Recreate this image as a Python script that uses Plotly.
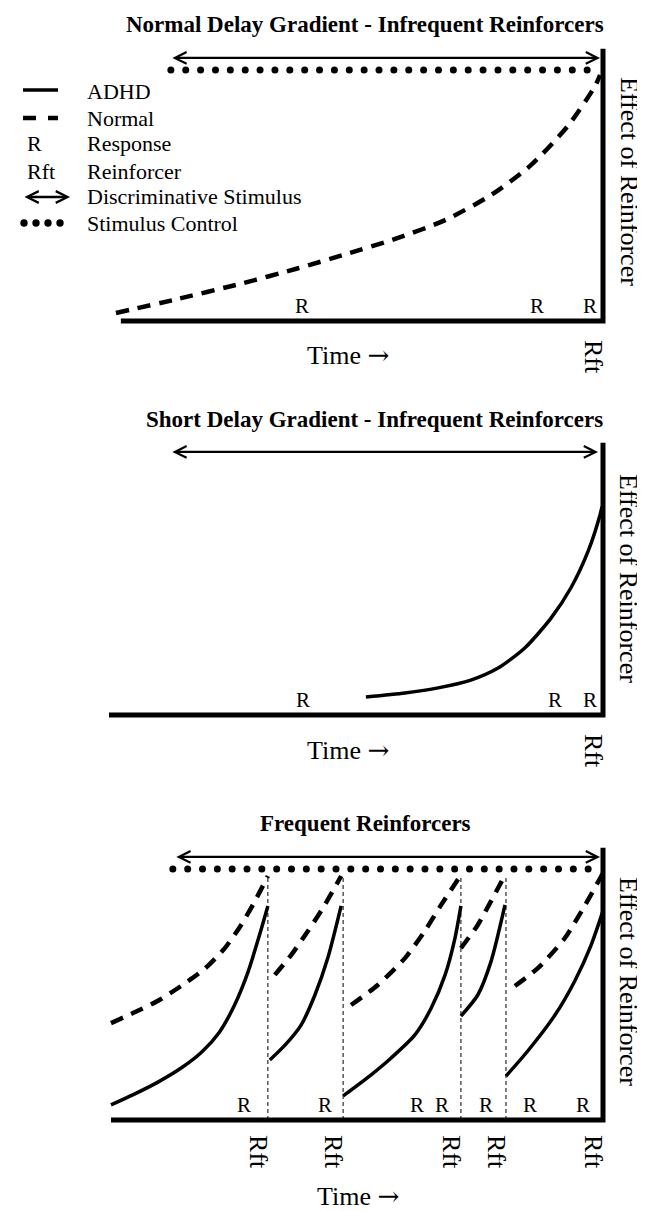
import numpy as np
import plotly.graph_objects as go

# ---------------------------------------------------------------- data
# Time axis: 0 = start of the time line, 100 = the reinforcer at the right axis.
# Effect axis: 0 = baseline, 1 = level of stimulus control.

# Panel 1 - Normal delay gradient, infrequent reinforcers
p1_normal_t = [1.6, 13.5, 26.9, 38.4, 47.5, 58.6, 68.1, 77.4, 85.5, 92.9, 98.4, 99.4]
p1_normal_e = [0.032, 0.085, 0.149, 0.210, 0.263, 0.331, 0.402, 0.502, 0.622, 0.777, 0.936, 0.980]
p1_responses = [39.2, 86.7, 97.4]
p1_reinforcers = [100]
p1_sd_span = [12.7, 99.4]          # discriminative stimulus
p1_control_span = [12.7, 96.8]     # stimulus control

# Panel 2 - Short delay gradient, infrequent reinforcers
p2_adhd_t = [52.1, 60.0, 66.7, 73.3, 78.8, 84.2, 89.5, 93.5, 97.0, 99.4, 99.8]
p2_adhd_e = [0.072, 0.088, 0.108, 0.139, 0.187, 0.267, 0.386, 0.506, 0.653, 0.797, 0.83]
p2_responses = [39.4, 90.3, 97.4]
p2_reinforcers = [100]
p2_sd_span = [12.7, 99.0]

# Panel 3 - Frequent reinforcers
p3_reinforcers = [32.3, 47.5, 71.3, 80.4, 100]
p3_responses = [27.5, 43.8, 62.4, 67.5, 76.4, 85.3, 96.0]
p3_sd_span = [13.5, 99.4]
p3_control_span = [13.1, 97.0]

p3_adhd_t = [
    [0.6, 5.0, 10.0, 15.0, 19.0, 22.5, 25.5, 28.3, 30.5, 32.3],
    [32.7, 35.8, 39.0, 41.8, 44.4, 47.1],
    [47.5, 53.1, 57.2, 62.0, 65.3, 68.1, 70.1, 71.3],
    [71.3, 74.7, 77.4, 80.2],
    [80.4, 84.8, 90.3, 94.3, 97.6, 100.0],
]
p3_adhd_e = [
    [0.060, 0.100, 0.150, 0.210, 0.272, 0.350, 0.455, 0.590, 0.730, 0.853],
    [0.239, 0.299, 0.378, 0.498, 0.645, 0.853],
    [0.096, 0.179, 0.247, 0.339, 0.446, 0.578, 0.725, 0.853],
    [0.414, 0.498, 0.633, 0.857],
    [0.175, 0.275, 0.418, 0.554, 0.697, 0.833],
]
p3_normal_t = [
    [0.6, 5.5, 10.1, 14.7, 19.6, 23.6, 26.9, 29.7, 32.3],
    [33.7, 37.0, 40.4, 43.8, 47.1],
    [49.1, 54.5, 60.0, 64.0, 67.3, 71.3],
    [71.3, 74.7, 77.4, 80.2],
    [82.2, 86.9, 92.3, 96.4, 100.0],
]
p3_normal_e = [
    [0.386, 0.430, 0.475, 0.533, 0.604, 0.685, 0.777, 0.873, 0.972],
    [0.578, 0.657, 0.753, 0.857, 0.972],
    [0.458, 0.538, 0.645, 0.753, 0.857, 0.976],
    [0.685, 0.777, 0.873, 0.976],
    [0.534, 0.606, 0.725, 0.857, 0.984],
]

titles = ["Normal Delay Gradient - Infrequent Reinforcers",
          "Short Delay Gradient - Infrequent Reinforcers",
          "Frequent Reinforcers"]
legend_labels = ["ADHD", "Normal", "Response", "Reinforcer",
                 "Discriminative Stimulus", "Stimulus Control"]

# ---------------------------------------------------------------- layout helpers
W, H = 645, 1211
SERIF = "Liberation Serif"
T0_PX, T100_PX = 100, 595
PX_PER_T = (T100_PX - T0_PX) / 100.0
PX_PER_E = 251.0

PANELS = [
    dict(top=0, bottom=385, base=313, t_start=2.6, title_y=16, time_y=347,
         time_x=340, effect_y=173, rft_shift=36),
    dict(top=385, bottom=790, base=707, t_start=0.2, title_y=412, time_y=742,
         time_x=340, effect_y=570, rft_shift=36),
    dict(top=790, bottom=1211, base=1112, t_start=0.6, title_y=815, time_y=1188,
         time_x=350, effect_y=973, rft_shift=32),
]
TITLE_X = [357, 366, 357]
ARROW_E = 1.048
CONTROL_E = 1.0
AXIS_TOP_E = 1.085
DOT_STEP_T = 3.0

BLACK = "black"
TIME_TEXT = "Time <span style='font-family:DejaVu Serif'>→</span>"


def px_x(x):
    return x / W


def px_y(y):
    return 1 - y / H


fig = go.Figure()
annotations = []
shapes = []

layout_axes = {}
for i, p in enumerate(PANELS):
    name = "yaxis" if i == 0 else f"yaxis{i + 1}"
    layout_axes[name] = dict(
        domain=[px_y(p["bottom"]), px_y(p["top"])],
        range=[-(p["bottom"] - p["base"]) / PX_PER_E, (p["base"] - p["top"]) / PX_PER_E],
        visible=False, anchor="x", fixedrange=True,
    )


def add_curve(t, e, yref, dashed):
    fig.add_trace(go.Scatter(
        x=t, y=e, mode="lines", xaxis="x", yaxis=yref, hoverinfo="skip",
        line=dict(color=BLACK, width=4.5 if dashed else 3.5,
                  dash="13px,9px" if dashed else "solid",
                  shape="spline", smoothing=0.7),
    ))


def add_arrow(span, yref):
    annotations.append(dict(
        x=span[1], y=ARROW_E, ax=span[0], ay=ARROW_E, xref="x", yref=yref,
        axref="x", ayref=yref, text="", showarrow=True, arrowside="end+start",
        arrowhead=5, startarrowhead=5, arrowsize=1, startarrowsize=1,
        arrowwidth=2.3, arrowcolor=BLACK, standoff=0, startstandoff=0,
    ))


def add_control(span, yref):
    n = int(round((span[1] - span[0]) / DOT_STEP_T)) + 1
    xs = np.linspace(span[0], span[1], n)
    fig.add_trace(go.Scatter(
        x=xs, y=[CONTROL_E] * n, mode="markers", xaxis="x", yaxis=yref,
        hoverinfo="skip", marker=dict(color=BLACK, size=7, symbol="circle"),
    ))


def add_frame(p, yref):
    shapes.append(dict(
        type="path", xref="x", yref=yref,
        path=f"M {p['t_start']},0 L 100,0 L 100,{AXIS_TOP_E}",
        line=dict(color=BLACK, width=5),
    ))


def add_labels(i, p, yref, responses, reinforcers):
    for t in responses:
        annotations.append(dict(
            x=t, y=0, xref="x", yref=yref, text="R", showarrow=False,
            yanchor="bottom", xanchor="center", yshift=1,
            font=dict(family=SERIF, size=21, color=BLACK),
        ))
    for t in reinforcers:
        annotations.append(dict(
            x=t, y=0, xref="x", yref=yref, text="Rft", showarrow=False,
            textangle=90, xanchor="center", yanchor="middle",
            xshift=-9, yshift=-p["rft_shift"],
            font=dict(family=SERIF, size=26, color=BLACK),
        ))
    annotations.append(dict(
        x=px_x(p["time_x"]), y=px_y(p["time_y"]), xref="paper", yref="paper",
        text=TIME_TEXT, showarrow=False, xanchor="center", yanchor="middle",
        font=dict(family=SERIF, size=26, color=BLACK),
    ))
    annotations.append(dict(
        x=px_x(621), y=px_y(p["effect_y"]), xref="paper", yref="paper",
        text="Effect of Reinforcer", showarrow=False, textangle=90,
        xanchor="center", yanchor="middle",
        font=dict(family=SERIF, size=26, color=BLACK),
    ))
    annotations.append(dict(
        x=px_x(TITLE_X[i]), y=px_y(p["title_y"]), xref="paper", yref="paper",
        text=f"<b>{titles[i]}</b>", showarrow=False, xanchor="center",
        yanchor="middle", font=dict(family=SERIF, size=23, color=BLACK),
    ))


# ---------------- panel 1
p = PANELS[0]
add_frame(p, "y")
add_arrow(p1_sd_span, "y")
add_control(p1_control_span, "y")
add_curve(p1_normal_t, p1_normal_e, "y", dashed=True)
add_labels(0, p, "y", p1_responses, p1_reinforcers)

# ---------------- panel 2
p = PANELS[1]
add_frame(p, "y2")
add_arrow(p2_sd_span, "y2")
add_curve(p2_adhd_t, p2_adhd_e, "y2", dashed=False)
add_labels(1, p, "y2", p2_responses, p2_reinforcers)

# ---------------- panel 3
p = PANELS[2]
add_frame(p, "y3")
add_arrow(p3_sd_span, "y3")
add_control(p3_control_span, "y3")
for t in p3_reinforcers[:-1]:
    fig.add_trace(go.Scatter(
        x=[t, t], y=[0, 0.97], mode="lines", xaxis="x", yaxis="y3",
        hoverinfo="skip", line=dict(color=BLACK, width=1, dash="4px,3px"),
    ))
for t, e in zip(p3_normal_t, p3_normal_e):
    add_curve(t, e, "y3", dashed=True)
for t, e in zip(p3_adhd_t, p3_adhd_e):
    add_curve(t, e, "y3", dashed=False)
add_labels(2, p, "y3", p3_responses, p3_reinforcers)

# ---------------- legend (drawn in the top-left corner)
LEG_Y = [83, 110, 136, 163, 189, 215]
LEG_TEXT_X = 77
LEG_FONT = 22
for lab, y in zip(legend_labels, LEG_Y):
    annotations.append(dict(
        x=px_x(LEG_TEXT_X), y=px_y(y), xref="paper", yref="paper", text=lab,
        showarrow=False, xanchor="left", yanchor="middle",
        font=dict(family=SERIF, size=LEG_FONT, color=BLACK),
    ))
# solid line sample
shapes.append(dict(type="line", xref="paper", yref="paper",
                   x0=px_x(15), x1=px_x(50), y0=px_y(LEG_Y[0] - 1), y1=px_y(LEG_Y[0] - 1),
                   line=dict(color=BLACK, width=3.5)))
# dashed sample
for a, b in [(15, 28), (40, 50)]:
    shapes.append(dict(type="line", xref="paper", yref="paper",
                       x0=px_x(a), x1=px_x(b), y0=px_y(LEG_Y[1]), y1=px_y(LEG_Y[1]),
                       line=dict(color=BLACK, width=4.5)))
# R and Rft symbols
annotations.append(dict(x=px_x(17), y=px_y(LEG_Y[2]), xref="paper", yref="paper",
                        text="R", showarrow=False, xanchor="left", yanchor="middle",
                        font=dict(family=SERIF, size=LEG_FONT, color=BLACK)))
annotations.append(dict(x=px_x(17), y=px_y(LEG_Y[3]), xref="paper", yref="paper",
                        text="Rft", showarrow=False, xanchor="left", yanchor="middle",
                        font=dict(family=SERIF, size=LEG_FONT, color=BLACK)))
# double arrow sample
annotations.append(dict(x=px_x(62), y=px_y(LEG_Y[4]), xref="paper", yref="paper",
                        ax=-47, ay=0, text="", showarrow=True, arrowside="end+start",
                        arrowhead=5, startarrowhead=5, arrowsize=1, startarrowsize=1,
                        arrowwidth=2.3, arrowcolor=BLACK, standoff=0, startstandoff=0))
# dots sample
for cx in [16, 28, 40, 52]:
    r = 3.7
    shapes.append(dict(type="circle", xref="paper", yref="paper",
                       x0=px_x(cx - r), x1=px_x(cx + r),
                       y0=px_y(LEG_Y[5] + r), y1=px_y(LEG_Y[5] - r),
                       fillcolor=BLACK, line=dict(color=BLACK, width=0)))

fig.update_layout(
    width=W, height=H, margin=dict(l=0, r=0, t=0, b=0),
    paper_bgcolor="white", plot_bgcolor="white", showlegend=False,
    xaxis=dict(domain=[0, 1], range=[(0 - T0_PX) / PX_PER_T, (W - T0_PX) / PX_PER_T],
               visible=False, fixedrange=True),
    annotations=annotations, shapes=shapes,
    **layout_axes,
)

fig.write_html("out.html", config={"displayModeBar": False})
